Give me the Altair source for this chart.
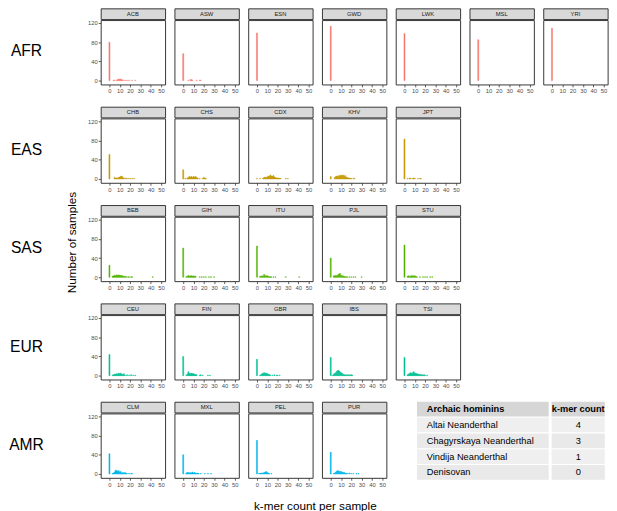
import altair as alt
import pandas as pd

FONT = "Liberation Sans"

# ---------------- data ----------------
superpops = ["AFR", "EAS", "SAS", "EUR", "AMR"]
superpop_colors = ["#F8766D", "#C49A00", "#53B400", "#00C094", "#00B6EB"]

pops_AFR = ["ACB", "ASW", "ESN", "GWD", "LWK", "MSL", "YRI"]
pops_EAS = ["CHB", "CHS", "CDX", "KHV", "JPT"]
pops_SAS = ["BEB", "GIH", "ITU", "PJL", "STU"]
pops_EUR = ["CEU", "FIN", "GBR", "IBS", "TSI"]
pops_AMR = ["CLM", "MXL", "PEL", "PUR"]

# number of samples for each k-mer count per sample  {k-mer count: samples}
ACB = {0: 80, 4: 1, 5: 1, 7: 1, 8: 2, 9: 3, 10: 3, 11: 3, 12: 2, 13: 1, 15: 1, 17: 1, 19: 1, 22: 1, 25: 1}
ASW = {0: 56, 5: 1, 7: 2, 8: 2, 9: 1, 13: 1, 16: 1, 17: 1}
ESN = {0: 99}
GWD = {0: 113}
LWK = {0: 98}
MSL = {0: 85}
YRI = {0: 109}

CHB = {0: 51, 5: 3, 6: 2, 7: 2, 8: 2, 9: 3, 10: 4, 11: 5, 12: 6, 13: 3, 14: 2, 16: 2, 18: 1, 20: 1, 22: 1, 24: 1}
CHS = {0: 19, 2: 1, 4: 2, 5: 3, 6: 5, 7: 4, 8: 5, 9: 3, 10: 5, 11: 4, 12: 5, 13: 3, 14: 2, 16: 1, 19: 1, 20: 3, 21: 2, 22: 1}
CDX = {0: 1, 3: 1, 6: 2, 7: 3, 8: 4, 9: 3, 10: 4, 11: 6, 12: 5, 13: 8, 14: 6, 15: 5, 16: 7, 17: 4, 18: 3, 19: 2,
       20: 2, 21: 2, 22: 1, 23: 1, 28: 1, 30: 1}
KHV = {0: 5, 4: 3, 5: 5, 6: 6, 7: 5, 8: 7, 9: 6, 10: 8, 11: 7, 12: 8, 13: 5, 14: 7, 15: 4, 16: 3, 17: 2, 18: 2,
       19: 1, 20: 1, 22: 1, 23: 1}
JPT = {0: 83, 3: 1, 5: 2, 6: 1, 8: 1, 9: 2, 10: 1, 13: 1, 15: 1, 16: 1}

BEB = {0: 25, 3: 2, 4: 3, 5: 4, 6: 3, 7: 5, 8: 4, 9: 5, 10: 4, 11: 4, 12: 3, 13: 3, 14: 2, 15: 1, 16: 2, 18: 1,
       19: 1, 21: 1, 22: 1, 42: 1}
GIH = {0: 61, 3: 1, 4: 2, 5: 4, 6: 2, 7: 3, 8: 3, 9: 2, 10: 3, 11: 2, 12: 2, 16: 1, 18: 1, 20: 1, 22: 1, 25: 1,
       27: 1, 30: 1}
ITU = {0: 65, 3: 2, 4: 2, 5: 3, 6: 2, 7: 6, 8: 3, 9: 3, 10: 3, 11: 2, 12: 1, 13: 1, 14: 1, 16: 1, 18: 1, 28: 1, 41: 1}
PJL = {0: 40, 3: 3, 4: 3, 5: 4, 6: 3, 7: 5, 8: 7, 9: 8, 10: 4, 11: 3, 12: 3, 13: 2, 14: 1, 15: 1, 16: 1, 18: 1,
       20: 1, 22: 1, 24: 1, 30: 1}
STU = {0: 67, 3: 2, 4: 3, 5: 2, 6: 2, 7: 4, 8: 2, 9: 3, 10: 3, 11: 2, 12: 1, 15: 1, 18: 1, 20: 1, 22: 1, 25: 1, 27: 1}

CEU = {0: 44, 3: 1, 4: 2, 5: 3, 6: 3, 7: 4, 8: 3, 9: 5, 10: 4, 11: 5, 12: 3, 13: 2, 14: 4, 15: 1, 17: 2, 19: 1,
       21: 2, 23: 1, 25: 1}
FIN = {0: 40, 3: 1, 4: 3, 5: 8, 6: 5, 7: 4, 8: 5, 9: 4, 10: 4, 11: 3, 12: 2, 13: 2, 16: 1, 17: 2, 19: 1, 24: 1, 26: 1}
GBR = {0: 34, 3: 1, 4: 2, 5: 4, 6: 5, 7: 6, 8: 5, 9: 5, 10: 4, 11: 3, 12: 2, 13: 1, 15: 1, 17: 2, 19: 1, 20: 1, 22: 1}
IBS = {0: 38, 2: 1, 3: 3, 4: 5, 5: 6, 6: 9, 7: 11, 8: 10, 9: 8, 10: 6, 11: 5, 12: 3, 13: 2, 14: 2, 15: 1, 16: 2,
       17: 1, 18: 2, 19: 1, 20: 2, 21: 1}
TSI = {0: 38, 3: 2, 4: 3, 5: 5, 6: 6, 7: 4, 8: 6, 9: 8, 10: 5, 11: 5, 12: 4, 13: 3, 14: 3, 15: 2, 16: 2, 17: 2,
       18: 1, 19: 2, 20: 1, 22: 1}

CLM = {0: 42, 3: 1, 4: 2, 5: 4, 6: 8, 7: 7, 8: 6, 9: 7, 10: 4, 11: 5, 12: 2, 13: 3, 14: 2, 15: 3, 16: 2, 17: 1,
       19: 1, 21: 1, 22: 1}
MXL = {0: 40, 3: 2, 4: 3, 5: 3, 6: 2, 7: 3, 8: 2, 9: 4, 10: 2, 11: 3, 12: 2, 13: 1, 14: 2, 15: 1, 17: 1, 21: 1,
       24: 1, 27: 1}
PEL = {0: 70, 2: 1, 3: 1, 4: 2, 5: 2, 6: 2, 7: 3, 8: 4, 9: 5, 10: 3, 11: 2, 12: 1, 14: 1}
PUR = {0: 45, 3: 1, 4: 2, 5: 4, 6: 6, 7: 7, 8: 6, 9: 5, 10: 5, 11: 4, 12: 3, 13: 3, 14: 2, 15: 1, 16: 1, 18: 2,
       20: 1, 22: 1, 25: 1, 27: 1}

x_ticks = [0, 10, 20, 30, 40, 50]
y_ticks = [0, 40, 80, 120]

archaic_hominins = ["Altai Neanderthal", "Chagyrskaya Neanderthal", "Vindija Neanderthal", "Denisovan"]
archaic_kmer_count = [4, 3, 1, 0]
table_header = ["Archaic hominins", "k-mer count"]

counts_by_pop = {
    "ACB": ACB, "ASW": ASW, "ESN": ESN, "GWD": GWD, "LWK": LWK, "MSL": MSL, "YRI": YRI,
    "CHB": CHB, "CHS": CHS, "CDX": CDX, "KHV": KHV, "JPT": JPT,
    "BEB": BEB, "GIH": GIH, "ITU": ITU, "PJL": PJL, "STU": STU,
    "CEU": CEU, "FIN": FIN, "GBR": GBR, "IBS": IBS, "TSI": TSI,
    "CLM": CLM, "MXL": MXL, "PEL": PEL, "PUR": PUR,
}
pops_by_superpop = [pops_AFR, pops_EAS, pops_SAS, pops_EUR, pops_AMR]

# ---------------- layout constants ----------------
PW, PH, SH = 66, 66, 11          # panel width, plot height, strip height
HSPACE, VSPACE = 7.6, 11.8
BORDER = "#333333"
XSCALE = alt.Scale(domain=[-8.5, 54], nice=False, zero=False)
XAXIS = dict(values=x_ticks, title=None)


def panel(pop, color, show_y):
    c = counts_by_pop[pop]
    df = pd.DataFrame({"k": list(c.keys()), "n": list(c.values())})
    strip = alt.Chart(pd.DataFrame({"pop": [pop]})).mark_text(
        fontSize=6, font=FONT, color="#1A1A1A"
    ).encode(text="pop:N").properties(
        width=PW, height=SH,
        view=alt.ViewBackground(fill="#D9D9D9", stroke=BORDER, strokeWidth=1),
    )
    yaxis = alt.Axis(values=y_ticks, title=None) if show_y else None
    plot = alt.Chart(df).transform_calculate(
        k0="datum.k - 0.5", k1="datum.k + 0.5"
    ).mark_rect(color=color, stroke=color, strokeWidth=0.5).encode(
        x=alt.X("k0:Q", scale=XSCALE, axis=alt.Axis(**XAXIS)),
        x2="k1:Q",
        y=alt.Y("n:Q", scale=alt.Scale(domain=[-8, 126], nice=False), axis=yaxis),
        y2=alt.datum(0),
    ).properties(
        width=PW, height=PH,
        view=alt.ViewBackground(fill="white", stroke=BORDER, strokeWidth=1),
    )
    return alt.vconcat(strip, plot, spacing=-1)


def table():
    rows = table_header[:1] + archaic_hominins
    vals = table_header[1:] + [str(v) for v in archaic_kmer_count]
    kind = ["head"] + ["body"] * len(archaic_hominins)
    tdf = pd.DataFrame({"row": rows, "val": vals, "kind": kind,
                        "shade": ["h", "a", "b", "a", "b"]})
    ysc = alt.Y("row:N", sort=rows, axis=None,
                scale=alt.Scale(paddingInner=0.07, paddingOuter=0))
    fill = alt.Color("shade:N", legend=None,
                     scale=alt.Scale(domain=["h", "a", "b"], range=["#D6D6D6", "#EFEFEF", "#E9E9E9"]))
    base = alt.Chart(tdf)

    def col(field, width, left):
        bg = base.mark_rect().encode(y=ysc, color=fill)
        extra = {"align": "left"} if left else {}
        enc = {"y": ysc, "text": f"{field}:N"}
        if left:
            enc["x"] = alt.value(10)
        head = base.transform_filter("datum.kind == 'head'").mark_text(
            font=FONT, fontSize=9.5, fontWeight="bold", color="black", **extra
        ).encode(**enc)
        body = base.transform_filter("datum.kind == 'body'").mark_text(
            font=FONT, fontSize=9.5, color="black", **extra
        ).encode(**enc)
        return alt.layer(bg, head, body).properties(width=width, height=80)

    return alt.hconcat(col("row", 135, True), col("val", 54.5, False), spacing=1)


def row_label(sp):
    # text label plus an invisible x axis identical to the panels' one, so that
    # the label cell has the same height as a row of panels
    txt = alt.Chart(pd.DataFrame({"sp": [sp]})).mark_text(
        fontSize=16, font=FONT, color="black", dy=5.5
    ).encode(text="sp:N")
    ghost = alt.Chart(pd.DataFrame({"sp": [sp]})).mark_tick(opacity=0).encode(
        x=alt.datum(0, scale=XSCALE,
                    axis=alt.Axis(labelOpacity=0, tickOpacity=0, **XAXIS))
    )
    return alt.layer(txt, ghost).properties(
        width=32, height=SH + PH,
        view=alt.ViewBackground(stroke="transparent", strokeWidth=1),
    )


grid_rows = []
label_charts = []
for i, sp in enumerate(superpops):
    panels = [panel(p, superpop_colors[i], j == 0) for j, p in enumerate(pops_by_superpop[i])]
    row = alt.hconcat(*panels, spacing=HSPACE)
    if sp == "AMR":
        row = alt.hconcat(row, table(), spacing=29.2)
    grid_rows.append(row)
    label_charts.append(row_label(sp))

grid = alt.vconcat(*grid_rows, spacing=VSPACE)
labels_col = alt.vconcat(*label_charts, spacing=VSPACE + 1.2)

ytitle = alt.Chart(pd.DataFrame({"t": ["Number of samples"]})).mark_text(
    angle=270, fontSize=12, font=FONT, color="black", dy=7
).encode(text="t:N").properties(width=41.5, height=480)

main = alt.hconcat(labels_col, ytitle, grid, spacing=0)

xtitle = alt.Chart(pd.DataFrame({"t": ["k-mer count per sample"]})).mark_text(
    fontSize=12, font=FONT, color="black", dx=13
).encode(text="t:N").properties(width=598, height=12)

chart = alt.vconcat(main, xtitle, spacing=12).properties(
    padding={"top": -7, "left": 0, "right": 0, "bottom": 0}
).configure_view(stroke="transparent").configure_axis(
    domain=False, grid=False, ticks=True, tickSize=2.5, tickColor=BORDER, tickWidth=0.8,
    labelFontSize=6, labelColor="#4D4D4D", labelFont=FONT, labelPadding=1,
    labelOverlap=False, labelFlush=False,
)

chart.save("out.html", embed_options={"renderer": "svg", "actions": False})
